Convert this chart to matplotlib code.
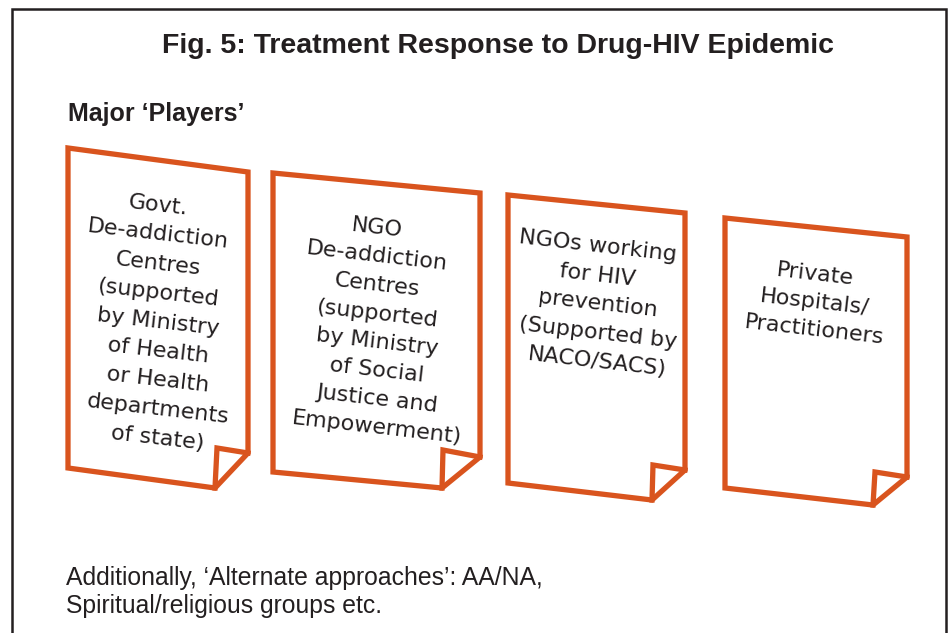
import matplotlib
matplotlib.use("Agg")
import matplotlib.pyplot as plt
from matplotlib.patches import Polygon

# text content
title = "Fig. 5: Treatment Response to Drug-HIV Epidemic"
subtitle = "Major \u2018Players\u2019"
players = [
    ["Govt.", "De-addiction", "Centres", "(supported", "by Ministry",
     "of Health", "or Health", "departments", "of state)"],
    ["NGO", "De-addiction", "Centres", "(supported", "by Ministry",
     "of Social", "Justice and", "Empowerment)"],
    ["NGOs working", "for HIV", "prevention", "(Supported by", "NACO/SACS)"],
    ["Private", "Hospitals/", "Practitioners"],
]
footnote = ["Additionally, \u2018Alternate approaches\u2019: AA/NA,",
            "Spiritual/religious groups etc."]

# page geometry (pixels): left, right, top-left y, top-right y,
# right-bottom y, fold x, fold y, bottom x, bottom y, bottom-left y
pages = [
    (68, 248, 148, 172, 453, 217, 448, 215, 488, 468),
    (273, 480, 173, 193, 457, 443, 450, 442, 488, 472),
    (508, 685, 195, 213, 470, 653, 465, 652, 500, 483),
    (725, 907, 218, 237, 477, 875, 472, 873, 505, 488),
]
# text centre x, first baseline, line step
text_pos = [(157, 211, 29.2), (376, 234, 28.5), (597, 252, 29.0), (814, 280, 28.0)]

ORANGE = "#D9541E"
INK = "#231F20"
NARROW = ["Liberation Sans", "DejaVu Sans"]

fig = plt.figure(figsize=(9.48, 6.33), dpi=100)
ax = fig.add_axes([0, 0, 1, 1])
ax.set_xlim(0, 948)
ax.set_ylim(633, 0)
ax.axis("off")

# outer frame (open at the bottom)
ax.plot([12, 12, 946, 946], [640, 9, 9, 640], color=INK, lw=1.8,
        solid_joinstyle="miter")

ax.text(498, 46, title, ha="center", va="center", fontsize=20.5,
        fontweight="bold", family=NARROW, color=INK)
ax.text(68, 114, subtitle, ha="left", va="center", fontsize=18,
        fontweight="bold", family=NARROW, color=INK)

for (L, R, tl, tr, rb, fx, fy, bx, by, bl), lines, (cx, y0, dy) in zip(
        pages, players, text_pos):
    page = Polygon([(L, tl), (R, tr), (R, rb), (bx, by), (L, bl)],
                   closed=True, facecolor="white", edgecolor=ORANGE,
                   lw=3.8, joinstyle="miter")
    ax.add_patch(page)
    ax.plot([R, fx, bx], [rb, fy, by], color=ORANGE, lw=3.8,
            solid_joinstyle="miter")
    for i, line in enumerate(lines):
        ax.text(cx, y0 + i * dy, line, ha="center", va="baseline",
                rotation=-6.5, rotation_mode="anchor", fontsize=16,
                family="DejaVu Sans", color=INK)

for i, line in enumerate(footnote):
    ax.text(66, 578 + i * 28, line, ha="left", va="center", fontsize=17.8,
            family=NARROW, color=INK)

fig.savefig("out.png", dpi=100)
